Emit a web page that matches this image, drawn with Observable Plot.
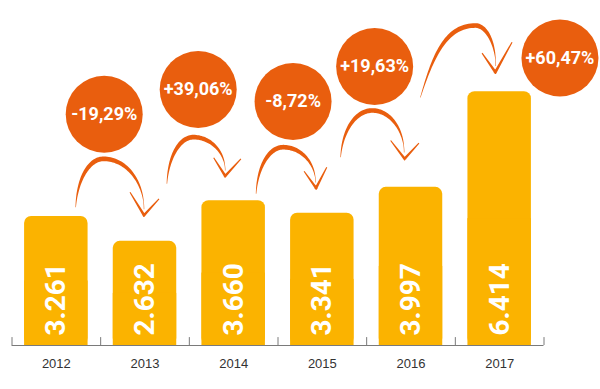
<!DOCTYPE html>
<html>
<head>
<meta charset="utf-8">
<script src="https://cdn.jsdelivr.net/npm/d3@7"></script>
<script src="https://cdn.jsdelivr.net/npm/@observablehq/plot@0.6"></script>
<style>
  html, body { margin: 0; padding: 0; background: #fff; }
  #chart { width: 600px; height: 389px; }
</style>
</head>
<body>
<div id="chart"></div>
<script>
// ---- data ----
const years = [2012, 2013, 2014, 2015, 2016, 2017];
const values = [3261, 2632, 3660, 3341, 3997, 6414];
const valueLabels = ["3.261", "2.632", "3.660", "3.341", "3.997", "6.414"];
const changes = ["-19,29%", "+39,06%", "-8,72%", "+19,63%", "+60,47%"];

// ---- annotation placement (bubble centres, in chart units) ----
const bubbleX = [2012.54, 2013.60, 2014.67, 2015.59, 2017.68];
const bubbleY = [5845, 6470, 6166, 7051, 7266];

// arrow glyph shapes, drawn relative to each bubble centre (px)
const arrowShapes = [
  {start: [-28.5, 93], peak: [-0.5, 44.6], end: [39.8, 95], tip: [39.8, 101], armL: [25.8, 78], armR: [54.8, 84.6], lean: 0.05},
  {start: [-31.3, 94.3], peak: [-4.7, 47.7], end: [27, 81], tip: [27, 86.5], armL: [15.5, 68.3], armR: [42.7, 69.3], lean: 0.05},
  {start: [-37, 92.3], peak: [-9.7, 45.7], end: [22.5, 81], tip: [23, 86.5], armL: [11, 69.7], armR: [33.7, 65.7], lean: 0.05},
  {start: [-34, 90.7], peak: [-2.3, 44], end: [29.5, 86], tip: [30, 92.3], armL: [16, 74], armR: [44.3, 76.7], lean: 0.05},
  {start: [-139.6, 39.5], peak: [-84.6, -32.5], end: [-64.2, 8], tip: [-64.6, 14.2], armL: [-77.9, -4.8], armR: [-47.9, -15.8], lean: 0.22}
];

const BAR = "#FBB300";
const ACCENT = "#E95E0E";
const AXIS = "#7a7a7a";
const LABEL_FONT = "Roboto, 'Liberation Sans', sans-serif";
const YEAR_FONT = "'Liberation Sans', Arial, sans-serif";

const data = years.map((year, i) => ({year, value: values[i], label: valueLabels[i]}));
const bubbles = changes.map((text, i) => ({text, x: bubbleX[i], y: bubbleY[i]}));
const edges = [...years.map(y => y - 0.5), years[years.length - 1] + 0.5];
const half = 0.358; // half bar width in year units

function cubic(p0, p1, p2, p3, t) {
  const u = 1 - t;
  return [
    u*u*u*p0[0] + 3*u*u*t*p1[0] + 3*u*t*t*p2[0] + t*t*t*p3[0],
    u*u*u*p0[1] + 3*u*u*t*p1[1] + 3*u*t*t*p2[1] + t*t*t*p3[1]
  ];
}
function area(poly) {
  let a = 0;
  for (let i = 0; i < poly.length; i++) {
    const p = poly[i], q = poly[(i + 1) % poly.length];
    a += p[0]*q[1] - q[0]*p[1];
  }
  return a / 2;
}
function drawPoly(ctx, poly) {
  if (area(poly) < 0) poly = poly.slice().reverse();
  ctx.moveTo(poly[0][0], poly[0][1]);
  for (let i = 1; i < poly.length; i++) ctx.lineTo(poly[i][0], poly[i][1]);
  ctx.closePath();
}
function arrowSymbol(g) {
  return {
    draw(ctx) {
      const k = 0.55, {start, peak, end, tip, armL, armR, lean} = g;
      const s1 = [start, [start[0] + lean*(peak[0]-start[0]), start[1] - k*(start[1]-peak[1])], [peak[0] - k*(peak[0]-start[0]), peak[1]], peak];
      const s2 = [peak, [peak[0] + k*(end[0]-peak[0]), peak[1]], [end[0], end[1] - k*(end[1]-peak[1])], end];
      const N = 40, pts = [];
      for (let i = 0; i <= N; i++) pts.push(cubic(...s1, i/N));
      for (let i = 1; i <= N; i++) pts.push(cubic(...s2, i/N));
      const M = pts.length, L = [], R = [];
      for (let i = 0; i < M; i++) {
        const a = pts[Math.max(0, i-1)], b = pts[Math.min(M-1, i+1)];
        let tx = b[0]-a[0], ty = b[1]-a[1];
        const len = Math.hypot(tx, ty) || 1; tx /= len; ty /= len;
        const s = i/(M-1);
        const w = 0.5 + 4.2*Math.pow(Math.sin(Math.PI*Math.min(1, s*1.05)), 1.1);
        L.push([pts[i][0] - ty*w/2, pts[i][1] + tx*w/2]);
        R.push([pts[i][0] + ty*w/2, pts[i][1] - tx*w/2]);
      }
      drawPoly(ctx, [...L, ...R.reverse()]);
      // chevron
      const arm = (e) => {
        let dx = tip[0]-e[0], dy = tip[1]-e[1];
        const len = Math.hypot(dx, dy); dx /= len; dy /= len;
        const nx = -dy, ny = dx, we = 0.55, wt = 1.4;
        return [
          [e[0] + nx*we, e[1] + ny*we],
          [tip[0] + nx*wt + dx*1.2, tip[1] + ny*wt + dy*1.2],
          [tip[0] - nx*wt + dx*1.2, tip[1] - ny*wt + dy*1.2],
          [e[0] - nx*we, e[1] - ny*we]
        ];
      };
      drawPoly(ctx, arm(armL));
      drawPoly(ctx, arm(armR));
    }
  };
}

const arrowMarks = arrowShapes.map((g, i) =>
  Plot.dot([bubbles[i]], {x: "x", y: "y", symbol: arrowSymbol(g), fill: ACCENT, stroke: "none", r: 10})
);

const chart = Plot.plot({
  width: 600,
  height: 389,
  marginLeft: 11.5,
  marginRight: 56.5,
  marginTop: 68,
  marginBottom: 44,
  style: {background: "#fff", overflow: "visible", fontFamily: YEAR_FONT},
  x: {type: "linear", domain: [2011.5, 2017.5], axis: null},
  y: {domain: [0, 7000], axis: null},
  marks: [
    Plot.rectY(data, {x1: d => d.year - half, x2: d => d.year + half, y1: 0, y2: "value", fill: BAR, rx: 7}),
    Plot.rectY(data, {x1: d => d.year - half, x2: d => d.year + half, y1: 0, y2: d => d.value / 2, fill: BAR}),
    Plot.ruleY([0], {stroke: AXIS, strokeWidth: 1}),
    Plot.ruleX(edges, {y1: 0, y2: 200, stroke: AXIS, strokeWidth: 1}),
    Plot.text(data, {x: "year", y: 0, text: d => String(d.year), dy: 18, lineAnchor: "middle",
      fontSize: 13, fill: "#333", fontFamily: YEAR_FONT}),
    Plot.text(data, {x: "year", y: 0, text: "label", rotate: -90, textAnchor: "start", lineAnchor: "middle",
      dy: -10, fill: "#fff", fontSize: 28, fontWeight: "bold", fontFamily: LABEL_FONT, ariaLabel: "values"}),
    ...arrowMarks,
    Plot.dot(bubbles, {x: "x", y: "y", r: 38.5, fill: ACCENT, stroke: "none"}),
    Plot.text(bubbles, {x: "x", y: "y", text: "text", fill: "#fff", fontSize: 18, fontWeight: "bold",
      fontFamily: LABEL_FONT, lineAnchor: "middle", ariaLabel: "changes"})
  ]
});
document.getElementById("chart").appendChild(chart);

// condense the white labels (the original uses a narrow display face)
function condense(selector, refText, refLength) {
  const nodes = Array.from(chart.querySelectorAll(selector));
  const ref = nodes.find(n => n.textContent === refText) || nodes[0];
  if (!ref) return;
  const k = refLength / ref.getComputedTextLength();
  nodes.forEach(n => {
    const w = n.getComputedTextLength();
    n.setAttribute("textLength", (w * k).toFixed(1));
    n.setAttribute("lengthAdjust", "spacingAndGlyphs");
  });
}
condense('g[aria-label="values"] text', "3.261", 57);
condense('g[aria-label="changes"] text', "-19,29%", 57);
</script>
</body>
</html>
